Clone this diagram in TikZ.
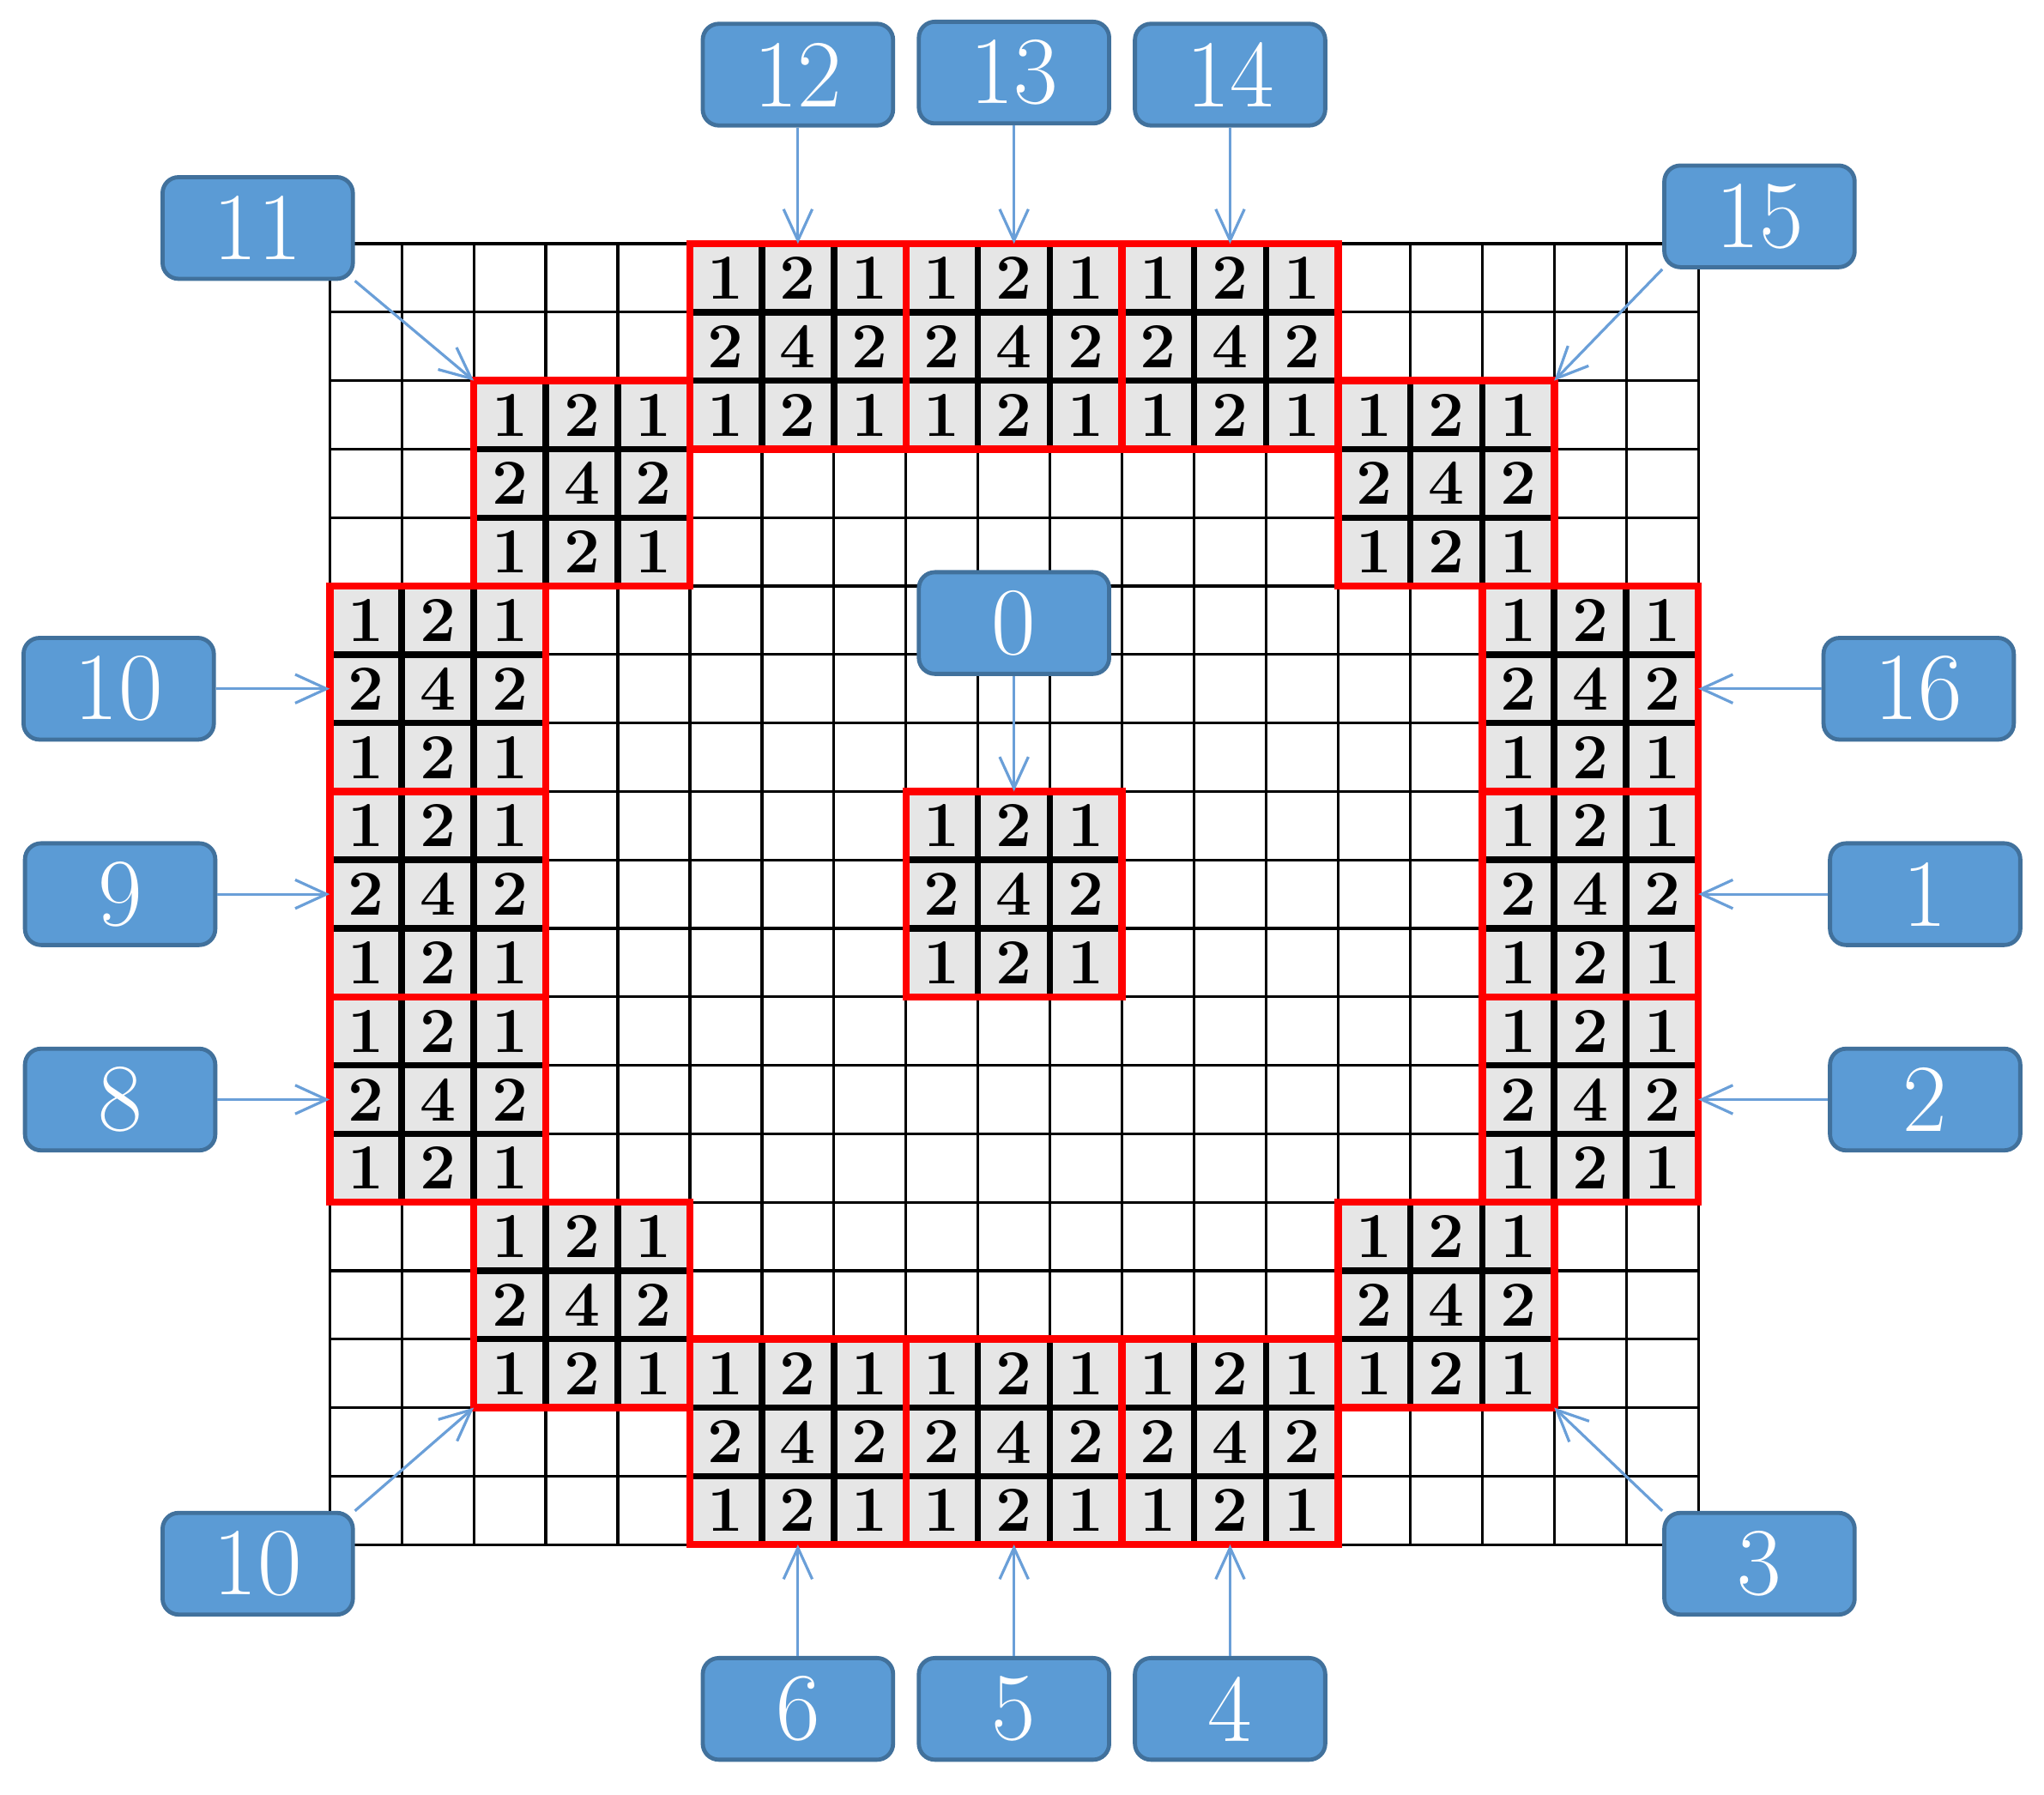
\documentclass[tikz,border=0pt]{standalone}
\usetikzlibrary{arrows.meta}
\definecolor{cellgray}{HTML}{E6E6E6}
\definecolor{boxblue}{HTML}{5B9BD5}
\definecolor{boxedge}{HTML}{41719C}
\definecolor{arrowblue}{HTML}{6A9FD8}
\tikzset{
  gridline/.style={black,line width=0.6pt},
  innerline/.style={black,line width=1.4pt},
  redframe/.style={red,line width=1.6pt},
  weight/.style={inner sep=0pt,font=\fontsize{14}{14}\selectfont\bfseries},
  tag/.style={draw=boxedge,line width=0.9pt,fill=boxblue,rounded corners=3.5pt,
    minimum width=1.46cm,minimum height=0.78cm,inner sep=0pt,text=white,
    font=\fontsize{21}{21}\selectfont},
  pointer/.style={draw=arrowblue,line width=0.6pt,-{Straight Barb[length=2.4mm,width=2.2mm]}},
}
\begin{document}
\begin{tikzpicture}[x=0.5526cm,y=-0.5253cm]
\useasboundingbox (-4.578,-3.560) rectangle (23.80,22.65);

% the 19x19 grid
\foreach \i in {0,...,19} {
  \draw[gridline] (\i,0) -- (\i,19);
  \draw[gridline] (0,\i) -- (19,\i);
}

% 3x3 kernels
\foreach \c/\r in {5/0,8/0,11/0,2/2,14/2,0/5,16/5,0/8,8/8,16/8,0/11,16/11,2/14,14/14,5/16,8/16,11/16} {
  \fill[cellgray] (\c,\r) rectangle ++(3,3);
  \foreach \i/\wi in {0/1,1/2,2/1}
    \foreach \j/\wj in {0/1,1/2,2/1} {
      \pgfmathtruncatemacro\w{\wi*\wj}
      \node[weight] (n\c-\r-\i-\j) at (\c+\i+0.5,\r+\j+0.5) {\w};
    }
  \draw[innerline] (\c+1,\r) -- ++(0,3);
  \draw[innerline] (\c+2,\r) -- ++(0,3);
  \draw[innerline] (\c,\r+1) -- ++(3,0);
  \draw[innerline] (\c,\r+2) -- ++(3,0);
}
\foreach \c/\r in {5/0,8/0,11/0,2/2,14/2,0/5,16/5,0/8,8/8,16/8,0/11,16/11,2/14,14/14,5/16,8/16,11/16}
  \draw[redframe] (\c,\r) rectangle ++(3,3);

% arrow targets
\coordinate (t12) at (6.5,0);
\coordinate (t13) at (9.5,0);
\coordinate (t14) at (12.5,0);
\coordinate (t11) at (2,2);
\coordinate (t15) at (17,2);
\coordinate (t10a) at (0,6.5);
\coordinate (t16) at (19,6.5);
\coordinate (t0) at (9.5,8);
\coordinate (t9) at (0,9.5);
\coordinate (t1) at (19,9.5);
\coordinate (t8) at (0,12.5);
\coordinate (t2) at (19,12.5);
\coordinate (t10b) at (2,17);
\coordinate (t3) at (17,17);
\coordinate (t6) at (6.5,19);
\coordinate (t5) at (9.5,19);
\coordinate (t4) at (12.5,19);

% labels
\node[tag] (lbl12) at (6.5,-2.47) {12};
\node[tag] (lbl13) at (9.5,-2.5) {13};
\node[tag] (lbl14) at (12.5,-2.47) {14};
\node[tag] (lbl11) at (-1.0,-0.23) {11};
\node[tag] (lbl15) at (19.85,-0.40) {15};
\node[tag] (lbl10a) at (-2.93,6.5) {10};
\node[tag] (lbl0) at (9.5,5.54) {0};
\node[tag] (lbl16) at (22.06,6.5) {16};
\node[tag] (lbl9) at (-2.91,9.5) {9};
\node[tag] (lbl1) at (22.15,9.5) {1};
\node[tag] (lbl8) at (-2.91,12.5) {8};
\node[tag] (lbl2) at (22.15,12.5) {2};
\node[tag] (lbl10b) at (-1.0,19.28) {10};
\node[tag] (lbl3) at (19.85,19.28) {3};
\node[tag] (lbl6) at (6.5,21.40) {6};
\node[tag] (lbl5) at (9.5,21.40) {5};
\node[tag] (lbl4) at (12.5,21.40) {4};

% arrows
\draw[pointer] (lbl12) -- (t12);
\draw[pointer] (lbl13) -- (t13);
\draw[pointer] (lbl14) -- (t14);
\draw[pointer] (lbl11.south east) -- (t11);
\draw[pointer] (lbl15.south west) -- (t15);
\draw[pointer] (lbl10a) -- (t10a);
\draw[pointer] (lbl0) -- (t0);
\draw[pointer] (lbl16) -- (t16);
\draw[pointer] (lbl9) -- (t9);
\draw[pointer] (lbl1) -- (t1);
\draw[pointer] (lbl8) -- (t8);
\draw[pointer] (lbl2) -- (t2);
\draw[pointer] (lbl10b.north east) -- (t10b);
\draw[pointer] (lbl3.north west) -- (t3);
\draw[pointer] (lbl6) -- (t6);
\draw[pointer] (lbl5) -- (t5);
\draw[pointer] (lbl4) -- (t4);
\end{tikzpicture}
\end{document}
